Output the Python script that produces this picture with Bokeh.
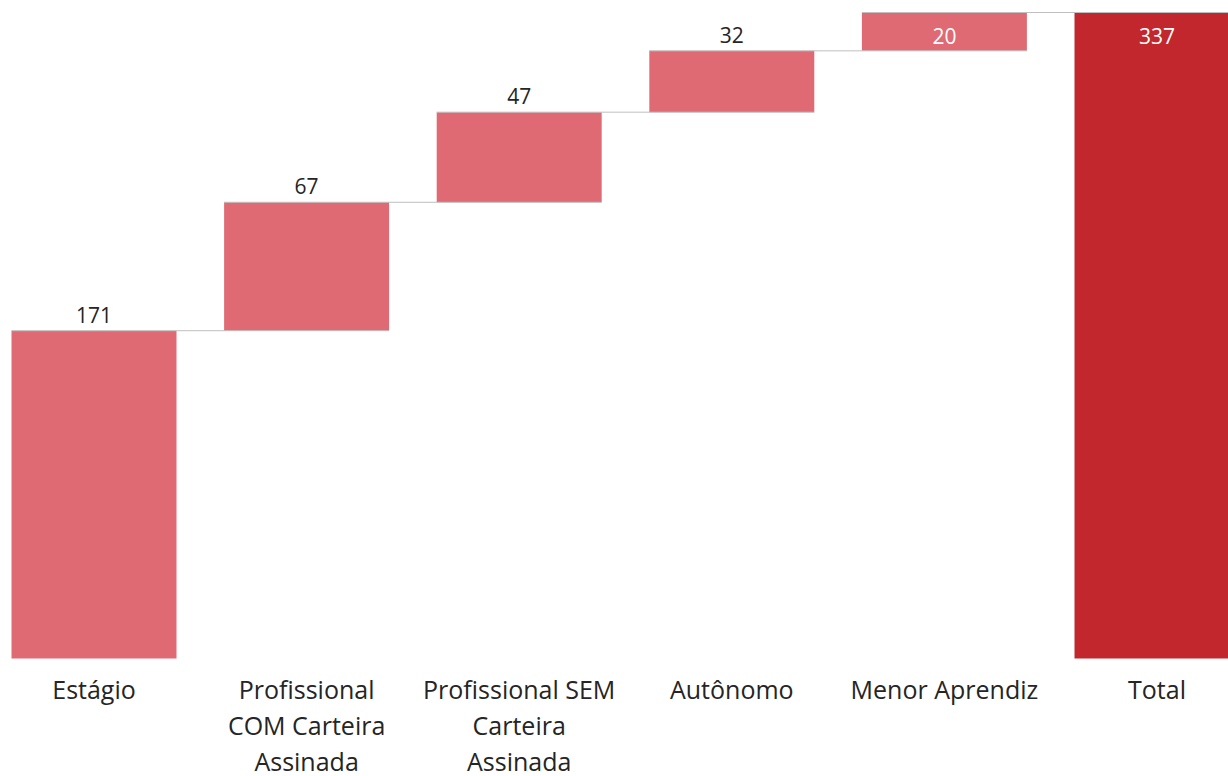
from bokeh.plotting import figure
from bokeh.models import ColumnDataSource, Range1d
from bokeh.core.properties import value
from bokeh.embed import file_html
from bokeh.resources import INLINE

categories = ["Estágio", "Profissional\nCOM Carteira\nAssinada", "Profissional SEM\nCarteira\nAssinada",
              "Autônomo", "Menor Aprendiz", "Total"]
values = [171, 67, 47, 32, 20]

LIGHT = "#DF6A73"
DARK = "#C1272D"
FONT = "Open Sans"

# build waterfall
bottoms, tops, colors, xs = [], [], [], []
cum = 0
for i, v in enumerate(values):
    bottoms.append(cum)
    cum += v
    tops.append(cum)
    colors.append(LIGHT)
    xs.append(i)
total = cum
bottoms.append(0)
tops.append(total)
colors.append(DARK)
xs.append(len(values))
all_vals = values + [total]

W, H = 1228, 776
px_per_cat = 212.6
x_start = -93.5 / px_per_cat
ppu = 646.0 / total
y_end = total + 12 / ppu
y_start = y_end - H / ppu

p = figure(width=W, height=H, output_backend="svg", toolbar_location=None,
           x_range=Range1d(x_start, x_start + W / px_per_cat),
           y_range=Range1d(y_start, y_end), min_border=0)
p.axis.visible = False
p.grid.visible = False
p.outline_line_color = None
p.background_fill_color = "white"
p.border_fill_color = "white"

src = ColumnDataSource(dict(x=xs, bottom=bottoms, top=tops, color=colors))
p.vbar(x="x", width=0.776, bottom="bottom", top="top", fill_color="color", line_color=None, source=src)

# connectors
half = 0.776 / 2
cx0 = [xs[i] - half for i in range(len(xs) - 1)]
cx1 = [xs[i + 1] + half for i in range(len(xs) - 1)]
cy = [tops[i] for i in range(len(xs) - 1)]
p.segment(x0=cx0, y0=cy, x1=cx1, y1=cy, line_color="#BFBFBF", line_width=1)

# value labels
inside = [t >= total for t in tops]
out_x = [x for x, ins in zip(xs, inside) if not ins]
out_y = [t for t, ins in zip(tops, inside) if not ins]
out_t = [str(v) for v, ins in zip(all_vals, inside) if not ins]
in_x = [x for x, ins in zip(xs, inside) if ins]
in_y = [t for t, ins in zip(tops, inside) if ins]
in_t = [str(v) for v, ins in zip(all_vals, inside) if ins]

p.text(x=out_x, y=out_y, text=out_t, text_font=value(FONT), text_font_size="21px",
       text_color="#252525", text_align="center", text_baseline="middle", y_offset=-16)
p.text(x=in_x, y=in_y, text=in_t, text_font=value(FONT), text_font_size="21px",
       text_color="white", text_align="center", text_baseline="middle", y_offset=23)

# category labels
p.text(x=xs, y=[0] * len(xs), text=categories, text_font=value(FONT), text_font_size="25px",
       text_color="#252525", text_align="center", text_baseline="top", text_line_height=1.06,
       y_offset=13)

open("out.html", "w").write(file_html(p, INLINE))
